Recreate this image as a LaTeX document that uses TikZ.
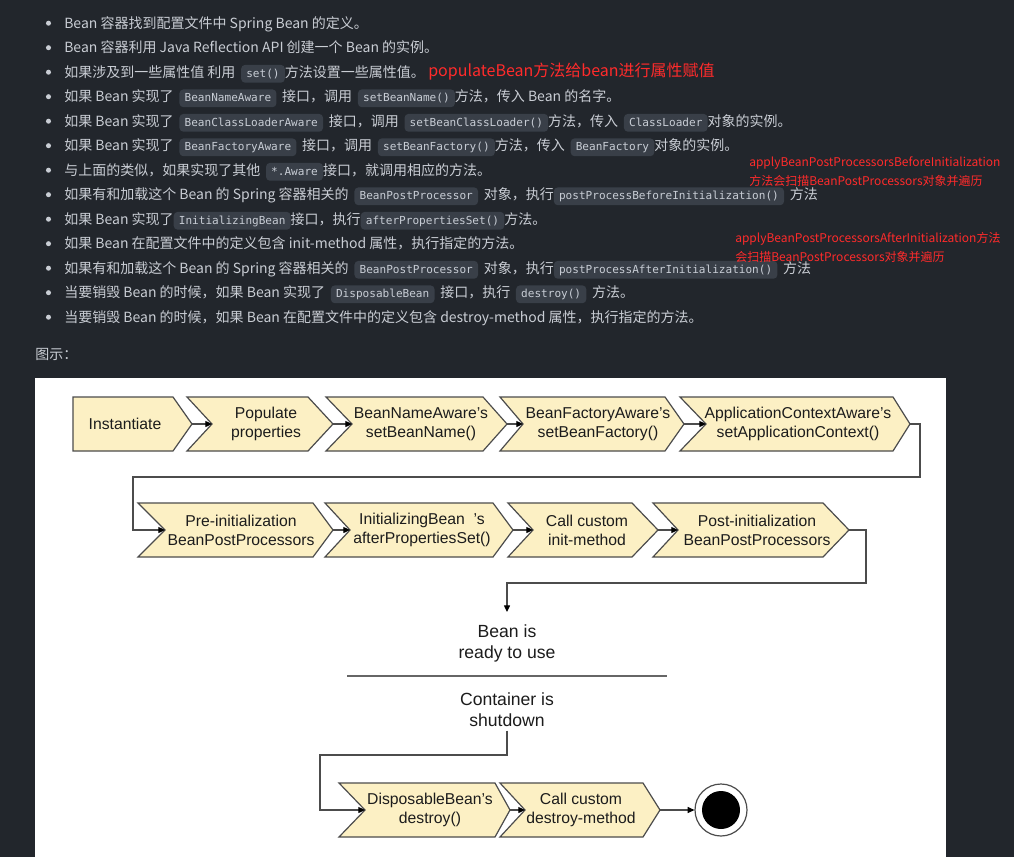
\documentclass[tikz,border=0pt]{standalone}
\usepackage{fontspec}
\setmainfont{Liberation Sans}
\newfontfamily\cjk{Noto Sans CJK SC}
\newfontfamily\monof{DejaVu Sans Mono}
\usetikzlibrary{arrows.meta}
\definecolor{pagebg}{HTML}{22262C}
\definecolor{txt}{HTML}{C9CDD4}
\definecolor{codebg}{HTML}{393F48}
\definecolor{codetxt}{HTML}{C8CDD5}
\definecolor{redt}{HTML}{FF2B2B}
\definecolor{chevfill}{HTML}{FCF0C4}
\definecolor{edge}{HTML}{4C4C4C}
\definecolor{dtext}{HTML}{1C1C1C}

\tikzset{
  codebox/.style={fill=codebg, rounded corners=3pt, text=codetxt,
    font=\monof\fontsize{8.3}{10}\selectfont, inner xsep=3.9pt, inner ysep=2.5pt,
    text height=6.6pt, text depth=1.8pt, anchor=base},
  li/.style={anchor=base west, inner sep=0pt, text=txt, font=\cjk\fontsize{10.5}{12}\selectfont},
  redbig/.style={anchor=base west, inner sep=0pt, text=redt, font=\cjk\fontsize{12}{14}\selectfont},
  ann/.style={anchor=base west, inner sep=0pt, text=redt, font=\cjk\fontsize{9}{11}\selectfont},
  chev/.style={fill=chevfill, draw=edge, line width=0.9pt, line join=miter},
  chevtext/.style={align=center, inner sep=0pt, text=dtext, font=\fontsize{11.8}{14.3}\selectfont},
  conn/.style={draw=edge, line width=0.9pt, -{Triangle[length=5pt,width=4.5pt,color=black]}},
  bigtext/.style={align=center, inner xsep=0pt, text=dtext, font=\fontsize{13.2}{15.5}\selectfont},
  sepline/.style={draw=gray!80!black, line width=0.8pt},
}

\newcommand\cb[1]{\tikz[baseline=(cbx.base)]\node[codebox](cbx){#1};}
\newcommand\gp{\hspace{4.3pt}}

% name, xleft, xnotch, xflat, xtip, ycenter, textx, text
\newcommand\chev[8]{%
  \draw[chev] (#2,#6-27) -- (#4,#6-27) -- (#5,#6) -- (#4,#6+27) -- (#2,#6+27) -- (#3,#6) -- cycle;
  \node[chevtext] (#1) at (#7,#6) {#8};
  \coordinate (#1-in) at (#3,#6);
  \coordinate (#1-out) at (#5,#6);
}

\begin{document}
\begin{tikzpicture}[x=0.75pt,y=-0.75pt]
\useasboundingbox (0,0) rectangle (1014,857);
\fill[pagebg] (0,0) rectangle (1014,857);

% bullets
\foreach \yy in {28,52.5,77,101.5,126,150.5,175,199.5,224,248.5,273,297.5,322}
  \fill[txt] (48.5,\yy-4.8) circle[radius=1.9pt];

% list lines
\node[li] (l1) at (64,28) {Bean 容器找到配置文件中 Spring Bean 的定义。};
\node[li] (l2) at (64,52.5) {Bean 容器利用 Java Reflection API 创建一个 Bean 的实例。};
\node[li] (l3) at (64,77) {如果涉及到一些属性值 利用\gp{}\cb{set()}方法设置一些属性值。};
\node[redbig] (r3) at (428,76) {populateBean方法给bean进行属性赋值};
\node[li] (l4) at (64,101.5) {如果 Bean 实现了\gp{}\cb{BeanNameAware}\gp{}接口，调用\gp{}\cb{setBeanName()}方法，传入 Bean 的名字。};
\node[li] (l5) at (64,126) {如果 Bean 实现了\gp{}\cb{BeanClassLoaderAware}\gp{}接口，调用\gp{}\cb{setBeanClassLoader()}方法，传入\gp{}\cb{ClassLoader}对象的实例。};
\node[li] (l6) at (64,150.5) {如果 Bean 实现了\gp{}\cb{BeanFactoryAware}\gp{}接口，调用\gp{}\cb{setBeanFactory()}方法，传入\gp{}\cb{BeanFactory}对象的实例。};
\node[li] (l7) at (64,175) {与上面的类似，如果实现了其他\gp{}\cb{*.Aware}接口，就调用相应的方法。};
\node[li] (l8) at (64,199.5) {如果有和加载这个 Bean 的 Spring 容器相关的\gp{}\cb{BeanPostProcessor}\gp{}对象，执行\cb{postProcessBeforeInitialization()}\gp{}方法};
\node[li] (l9) at (64,224) {如果 Bean 实现了\cb{InitializingBean}接口，执行\cb{afterPropertiesSet()}方法。};
\node[li] (l10) at (64,248.5) {如果 Bean 在配置文件中的定义包含 init-method 属性，执行指定的方法。};
\node[li] (l11) at (64,273) {如果有和加载这个 Bean 的 Spring 容器相关的\gp{}\cb{BeanPostProcessor}\gp{}对象，执行\cb{postProcessAfterInitialization()}\gp{}方法};
\node[li] (l12) at (64,297.5) {当要销毁 Bean 的时候，如果 Bean 实现了\gp{}\cb{DisposableBean}\gp{}接口，执行\gp{}\cb{destroy()}\gp{}方法。};
\node[li] (l13) at (64,322) {当要销毁 Bean 的时候，如果 Bean 在配置文件中的定义包含 destroy-method 属性，执行指定的方法。};

% red annotations
\node[ann] (a1) at (749,166.5) {applyBeanPostProcessorsBeforeInitialization};
\node[ann] (a2) at (749,185) {方法会扫描BeanPostProcessors对象并遍历};
\node[ann] (a3) at (735,242.5) {applyBeanPostProcessorsAfterInitialization方法};
\node[ann] (a4) at (735,261) {会扫描BeanPostProcessors对象并遍历};

\node[li] (fig) at (35,359) {图示：};

% white panel
\fill[white] (35,378) rectangle (946,857);

% row 1
\chev{inst}{73}{73}{173}{192}{424}{125}{Instantiate}
\chev{pop}{187}{212}{308}{333}{424}{266}{Populate\\properties}
\chev{bna}{326}{352}{483}{507}{424}{421}{BeanNameAware's\\setBeanName()}
\chev{bfa}{500}{523}{665}{684}{424}{598}{BeanFactoryAware's\\setBeanFactory()}
\chev{aca}{680}{706}{893}{910}{424}{798}{ApplicationContextAware's\\setApplicationContext()}

% row 2
\chev{pre}{138}{165}{313}{333}{530}{241}{Pre-initialization\\BeanPostProcessors}
\chev{ib}{325}{350}{493}{513}{530}{422}{InitializingBean\ \ 's\\afterPropertiesSet()}
\chev{cim}{508}{533}{632}{658}{530}{587}{Call custom\\init-method}
\chev{post}{653}{678}{823}{849}{530}{757}{Post-initialization\\BeanPostProcessors}

% middle
\node[bigtext, inner ysep=9.5pt] (ready) at (507,643.5) {Bean is\\ready to use};
\node[bigtext, inner ysep=3pt] (cont) at (507,709.5) {Container is\\shutdown};
\draw[sepline] (347,676) -- (667,676);

% row 3
\chev{disp}{339}{365}{495}{510}{810}{430}{DisposableBean's\\destroy()}
\chev{cdm}{500}{525}{643}{660}{810}{581}{Call custom\\destroy-method}

\node[circle, draw=edge, line width=0.9pt, fill=white, minimum size=39pt, inner sep=0pt] (endc) at (721,810) {};
\node[circle, fill=black, minimum size=28.5pt, inner sep=0pt] (endi) at (endc) {};

% connectors
\draw[conn] (inst-out) -- (pop-in);
\draw[conn] (pop-out) -- (bna-in);
\draw[conn] (bna-out) -- (bfa-in);
\draw[conn] (bfa-out) -- (aca-in);
\draw[conn] (aca-out) -- (920,424) -- (920,477) -- (133,477) -- (133,530) -- (pre-in);
\draw[conn] (pre-out) -- (ib-in);
\draw[conn] (ib-out) -- (cim-in);
\draw[conn] (cim-out) -- (post-in);
\draw[conn] (post-out) -- (866,530) -- (866,583) -- (507,583) -- (ready.north);
\draw[conn] (cont.south) -- (507,755) -- (320,755) -- (320,810) -- (disp-in);
\draw[conn] (disp-out) -- (cdm-in);
\draw[conn] (cdm-out) -- (endc);
\end{tikzpicture}
\end{document}
